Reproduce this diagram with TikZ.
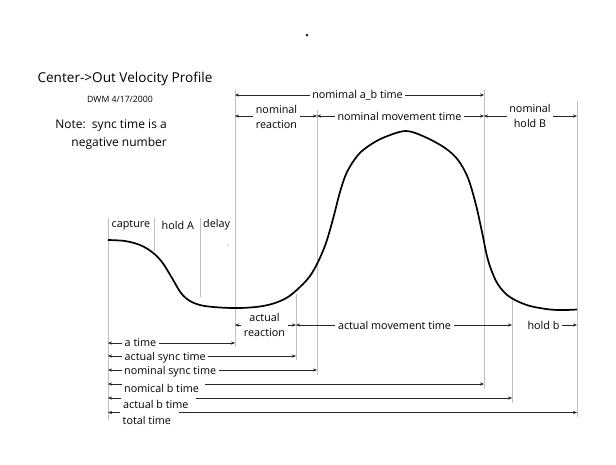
\documentclass[tikz,border=0pt]{standalone}
\usepackage{fontspec}
\setmainfont{Open Sans}
\usetikzlibrary{arrows.meta}
\begin{document}
\begin{tikzpicture}[x=1pt,y=-1pt,
  vline/.style={draw=black!25, line width=0.7pt},
  arr/.style={-{Stealth[length=4pt,width=3.2pt]}, line width=0.5pt, draw=black!85},
  lbl/.style={font=\fontsize{10.8}{15}\selectfont, inner sep=2.5pt, align=center},
  curve/.style={line width=1.7pt, line join=round},
]
\path[use as bounding box] (0,0) rectangle (616,464);

% header texts
\node[font=\fontsize{13.6}{16}\selectfont, inner sep=0pt] (title) at (125,79) {Center->Out Velocity Profile};
\node[font=\fontsize{8.7}{10}\selectfont, inner sep=0pt] (dwm) at (120,99) {DWM 4/17/2000};
\node[font=\fontsize{12}{14}\selectfont, inner sep=0pt, anchor=east] (note1) at (167,126) {Note:\ \ sync time is a};
\node[font=\fontsize{12}{14}\selectfont, inner sep=0pt, anchor=east] (note2) at (167,143) {negative number};

% stray dots
\fill[black!85] (307,35) circle (1.5pt);
\fill[black!40] (228,245) circle (0.6pt);

% vertical guide lines
\coordinate (vAt) at (108,218); \coordinate (vAb) at (108,420);
\coordinate (vBt) at (154,218); \coordinate (vBb) at (154,251);
\coordinate (vCt) at (200,218); \coordinate (vCb) at (200,297);
\coordinate (vDt) at (235,90);  \coordinate (vDb) at (235,347);
\coordinate (vEt) at (296,294); \coordinate (vEb) at (296,360);
\coordinate (vFt) at (317,110); \coordinate (vFb) at (317,375);
\coordinate (vGt) at (484,90);  \coordinate (vGb) at (484,389);
\coordinate (vHt) at (512,297); \coordinate (vHb) at (512,403);
\coordinate (vIt) at (577,101); \coordinate (vIb) at (577,417);
\foreach \v in {A,B,C,D,E,F,G,H,I}{\draw[vline] (v\v t) -- (v\v b);}

% velocity curve
\draw[curve] plot[smooth, tension=0.55] coordinates {
 (108,240) (125,241) (140,245) (152,252) (162,262) (172,278) (181,293)
 (190,301) (202,305.5) (220,307.5) (240,308) (260,306.5) (275,303)
 (288,297) (300,287) (310,276) (318,262) (326,243) (333,219) (340,192)
 (347,172) (358,155) (370,145) (385,137) (406,131) (425,137) (445,148)
 (458,160) (468,178) (476,205) (482,232) (488,260) (496,281) (505,293)
 (515,300) (530,306) (550,309.5) (565,310) (577,309.5)};

% phase labels
\node[lbl, anchor=west, inner sep=0pt] (capture) at (111.5,225) {capture};
\node[lbl, anchor=west, inner sep=0pt] (holdA) at (161.5,225) {hold A};
\node[lbl, anchor=west, inner sep=0pt] (delay) at (203,225) {delay};

% top row
\node[lbl] (nab) at (357.5,95) {nomimal a\_b time};
\draw[arr] (nab.west) -- (vDt |- nab.west);
\draw[arr] (nab.east) -- (vGt |- nab.east);

\coordinate (rT) at (0,116);
\node[lbl] (nreact) at (276.5,117) {nominal\\reaction};
\draw[arr] (nreact.west |- rT) -- (vDt |- rT);
\draw[arr] (nreact.east |- rT) -- (vFt |- rT);
\node[lbl] (nmove) at (399.5,116) {nominal movement time};
\draw[arr] (nmove.west) -- (vFt |- nmove.west);
\draw[arr] (nmove.east) -- (vGt |- nmove.east);
\node[lbl] (nholdB) at (530,116) {nominal\\hold B};
\draw[arr] (nholdB.west |- rT) -- (vGt |- rT);
\draw[arr] (nholdB.east |- rT) -- (vIt |- rT);

% actual row
\coordinate (rA) at (0,325);
\node[lbl] (areact) at (264.5,325) {actual\\reaction};
\draw[arr] (areact.west |- rA) -- (vDt |- rA);
\draw[arr] (areact.east |- rA) -- (vEt |- rA);
\node[lbl] (amove) at (394.5,325) {actual movement time};
\draw[arr] (amove.west) -- (vEt |- amove.west);
\draw[arr] (amove.east) -- (vHt |- amove.east);
\node[lbl] (holdb) at (543.5,325) {hold b};
\draw[arr] (holdb.east) -- (vIt |- holdb.east);

% bottom rows
\coordinate (r1) at (108,343);
\coordinate (r2) at (108,356);
\coordinate (r3) at (108,370);
\coordinate (r4) at (108,384);
\coordinate (r5) at (108,398);
\coordinate (r6) at (108,412.5);
\node[lbl, anchor=west] (t1) at (122,343) {a time};
\node[lbl, anchor=west] (t2) at (122,357.5) {actual sync time};
\node[lbl, anchor=west] (t3) at (121.5,372) {nominal sync time};
\node[lbl, anchor=west] (t4) at (121.5,388) {nomical b time};
\node[lbl, anchor=west] (t5) at (120.5,404) {actual b time};
\node[lbl, anchor=west] (t6) at (120,420) {total time};
\draw[arr] (t1.west |- r1) -- (r1); \draw[arr] (t1.east |- r1) -- (vDt |- r1);
\draw[arr] (t2.west |- r2) -- (r2); \draw[arr] (t2.east |- r2) -- (vEt |- r2);
\draw[arr] (t3.west |- r3) -- (r3); \draw[arr] (t3.east |- r3) -- (vFt |- r3);
\draw[arr] (t4.west |- r4) -- (r4); \draw[arr] ([xshift=3pt]t4.east |- r4) -- (vGt |- r4);
\draw[arr] (t5.west |- r5) -- (r5); \draw[arr] ([xshift=5pt]t5.east |- r5) -- (vHt |- r5);
\draw[arr] (t6.west |- r6) -- (r6); \draw[arr] ([xshift=5pt]t6.east |- r6) -- (vIt |- r6);
\end{tikzpicture}
\end{document}
